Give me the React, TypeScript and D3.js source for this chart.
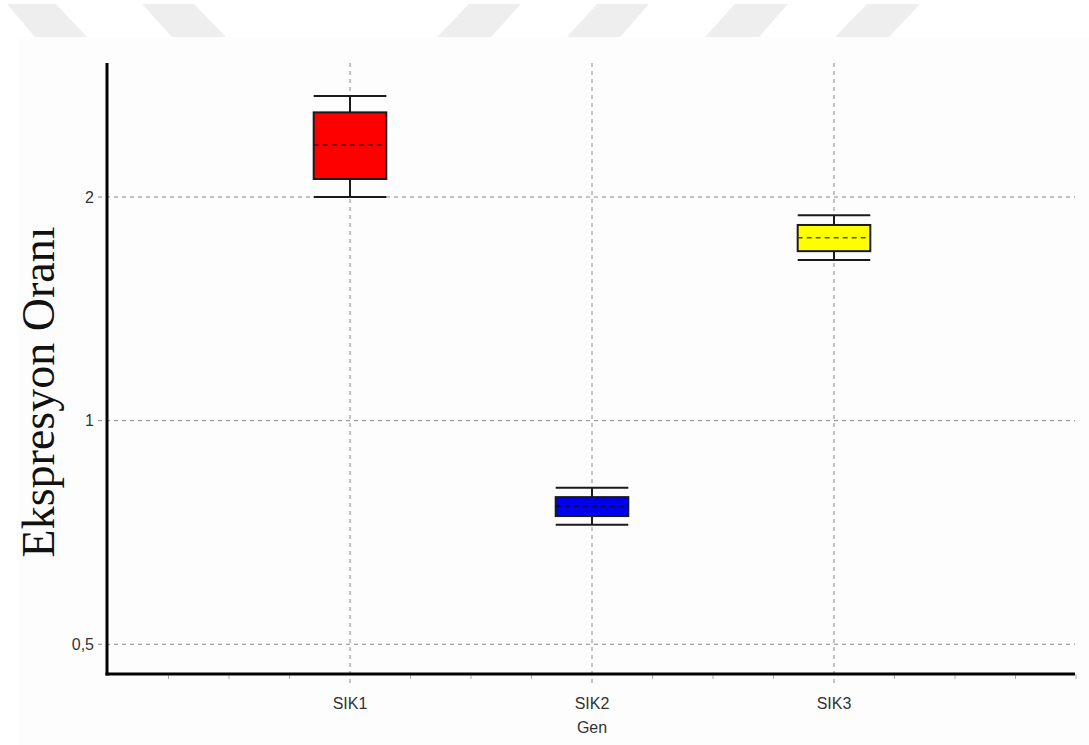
import React from "react";
import * as d3 from "d3";

// Relative expression per gene (log2 axis)
const genes = ["SIK1", "SIK2", "SIK3"];
const whiskerLow = [2.0, 0.724, 1.645];
const quartile1 = [2.115, 0.744, 1.691];
const medians = [2.35, 0.767, 1.763];
const quartile3 = [2.6, 0.789, 1.834];
const whiskerHigh = [2.736, 0.812, 1.89];
const boxColors = ["#ff0000", "#0000ee", "#ffff00"];
const yTicks = [0.5, 1, 2];
const yTickLabels = ["0,5", "1", "2"];

const W = 1089;
const H = 745;

// Light banner strips across the top edge
const banners: [number, number, number, number][] = [
  // [topLeft, topRight, bottomLeft, bottomRight]
  [7, 56, 35, 87],
  [142, 194, 172, 226],
  [469, 521, 437, 491],
  [597, 649, 567, 620],
  [735, 788, 705, 759],
  [867, 920, 835, 889],
];

export default function App() {
  const left = 108;
  const right = 1076;
  const top = 63;
  const bottom = 674;

  const x = d3.scaleLinear().domain([0, 4]).range([left, right]);
  const y = d3.scaleLog().base(2).domain([0.456, 3.03]).range([bottom, top]);

  const boxW = x(0.3) - x(0);
  const minorTicks = d3.range(1, 17).map((i) => i * 0.25);
  const sans = "Arial, 'Liberation Sans', sans-serif";

  return (
    <svg
      width={W}
      height={H}
      style={{ position: "absolute", left: 0, top: 0, background: "#ffffff" }}
    >
      {banners.map((b, i) => (
        <polygon
          key={i}
          points={`${b[0]},4 ${b[1]},4 ${b[3]},37 ${b[2]},37`}
          fill="#eeeeee"
        />
      ))}
      <rect x={17} y={37} width={W - 17} height={H - 37} fill="#fdfdfd" />

      {/* horizontal grid */}
      {yTicks.map((t) => (
        <line
          key={t}
          x1={left - 10}
          x2={right - 1}
          y1={y(t)}
          y2={y(t)}
          stroke="#8a8a8a"
          strokeWidth={1}
          strokeDasharray="4,4"
        />
      ))}
      {/* vertical grid at categories */}
      {genes.map((g, i) => (
        <line
          key={g}
          x1={x(i + 1)}
          x2={x(i + 1)}
          y1={top}
          y2={bottom + 10}
          stroke="#8a8a8a"
          strokeWidth={1}
          strokeDasharray="4,4"
        />
      ))}

      {/* minor ticks on x axis */}
      {minorTicks
        .filter((t) => Math.abs(t - Math.round(t)) > 1e-6 || t === 4)
        .map((t) => (
          <line
            key={t}
            x1={x(t)}
            x2={x(t)}
            y1={bottom}
            y2={bottom + 5}
            stroke="#aaaaaa"
            strokeWidth={1}
          />
        ))}

      {/* boxes */}
      {genes.map((g, i) => {
        const cx = x(i + 1);
        const fill = boxColors[i];
        const dark = d3.color(fill)!.darker(3).formatHex();
        return (
          <g key={g}>
            <line x1={cx} x2={cx} y1={y(whiskerHigh[i])} y2={y(quartile3[i])} stroke="#1a1a1a" strokeWidth={2} />
            <line x1={cx} x2={cx} y1={y(quartile1[i])} y2={y(whiskerLow[i])} stroke="#1a1a1a" strokeWidth={2} />
            <line x1={cx - boxW / 2} x2={cx + boxW / 2} y1={y(whiskerHigh[i])} y2={y(whiskerHigh[i])} stroke="#1a1a1a" strokeWidth={2} />
            <line x1={cx - boxW / 2} x2={cx + boxW / 2} y1={y(whiskerLow[i])} y2={y(whiskerLow[i])} stroke="#1a1a1a" strokeWidth={2} />
            <rect
              x={cx - boxW / 2}
              y={y(quartile3[i])}
              width={boxW}
              height={y(quartile1[i]) - y(quartile3[i])}
              fill={fill}
              stroke="#1a1a1a"
              strokeWidth={2}
            />
            <line
              x1={cx - boxW / 2}
              x2={cx + boxW / 2}
              y1={y(medians[i])}
              y2={y(medians[i])}
              stroke={dark}
              strokeWidth={1.5}
              strokeDasharray="5,4"
            />
          </g>
        );
      })}

      {/* axes */}
      <line x1={left - 1} x2={left - 1} y1={top} y2={bottom + 1.5} stroke="#000" strokeWidth={3} />
      <line x1={left - 2.5} x2={right - 1} y1={bottom} y2={bottom} stroke="#000" strokeWidth={3} />

      {/* y tick labels */}
      {yTicks.map((t, i) => (
        <text
          key={t}
          x={left - 14}
          y={y(t)}
          dy="0.35em"
          textAnchor="end"
          fontFamily={sans}
          fontSize={16}
          fill="#333"
        >
          {yTickLabels[i]}
        </text>
      ))}

      {/* x tick labels */}
      {genes.map((g, i) => (
        <text
          key={g}
          x={x(i + 1)}
          y={709}
          textAnchor="middle"
          fontFamily={sans}
          fontSize={16}
          fill="#333"
        >
          {g}
        </text>
      ))}
      <text x={x(2)} y={733} textAnchor="middle" fontFamily={sans} fontSize={16} fill="#333">
        Gen
      </text>

      <text
        transform={`translate(54,392) rotate(-90)`}
        textAnchor="middle"
        fontFamily="'Liberation Serif', 'Times New Roman', serif"
        fontSize={46}
        fill="#111"
      >
        Ekspresyon Oranı
      </text>
    </svg>
  );
}
